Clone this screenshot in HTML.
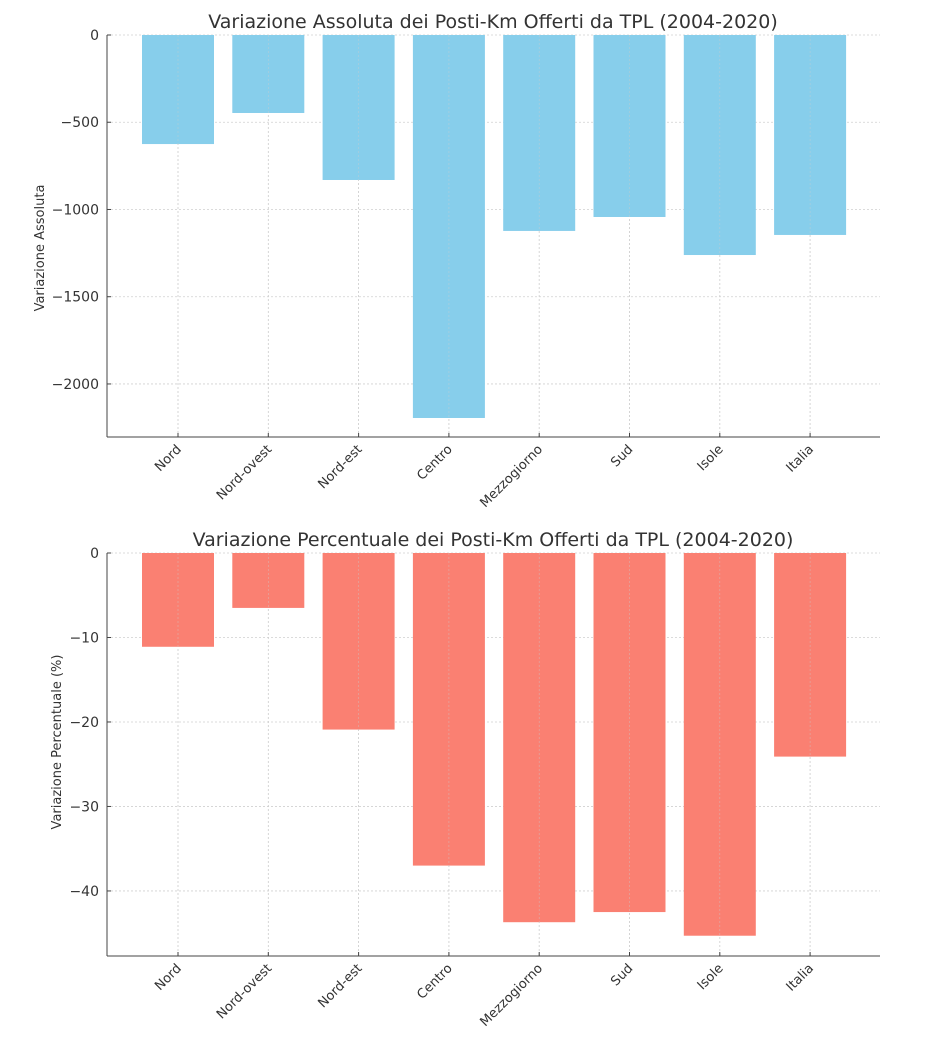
<!DOCTYPE html>
<html><head><meta charset="utf-8"><style>
body{margin:0;background:#fff;}
svg{display:block;font-family:"DejaVu Sans","Liberation Sans",sans-serif;}
</style></head><body>
<svg id="c" width="944" height="1048" viewBox="0 0 944 1048"></svg>
<script>
const categories=["Nord","Nord-ovest","Nord-est","Centro","Mezzogiorno","Sud","Isole","Italia"];
const absValues=[-625,-447,-831,-2195,-1123,-1043,-1261,-1146];
const pctValues=[-11.1,-6.5,-20.9,-37.0,-43.7,-42.5,-45.3,-24.1];
const absTicks=[0,-500,-1000,-1500,-2000];
const pctTicks=[0,-10,-20,-30,-40];
const NS="http://www.w3.org/2000/svg";
const svg=document.getElementById('c');
function mk(tag,attrs,parent){const e=document.createElementNS(NS,tag);for(const k in attrs)e.setAttribute(k,attrs[k]);(parent||svg).appendChild(e);return e;}
function chart(o){
  const g=mk('g',{});
  
  
  const x0=107,x1=880;
  const y=v=>o.top+v*(o.bottom-o.top)/(o.min);
  const xc=i=>178+i*90.3;
  o.ticks.forEach(t=>{const l=mk('line',{x1:x0,x2:x1,y1:y(t),y2:y(t),stroke:'#d0d0d0','stroke-dasharray':'2,2','stroke-width':0.8},g);
    });
  categories.forEach((c,i)=>{const l=mk('line',{x1:xc(i),x2:xc(i),y1:o.top,y2:o.bottom,stroke:'#d0d0d0','stroke-dasharray':'2,2','stroke-width':0.8},g);
    });
  o.values.forEach((v,i)=>{const r=mk('rect',{x:xc(i)-36,y:y(0),width:72,height:y(v)-y(0),fill:o.color},g);
    });
  categories.forEach((c,i)=>{mk('line',{x1:xc(i),x2:xc(i),y1:o.top,y2:o.bottom,stroke:'#ccc','stroke-dasharray':'2,2','stroke-width':0.6,opacity:0.6},g);});
  const sl=mk('line',{x1:x0,x2:x0,y1:o.top,y2:o.bottom,stroke:'#444','stroke-width':1},g);
  
  const sb=mk('line',{x1:x0,x2:x1,y1:o.bottom,y2:o.bottom,stroke:'#444','stroke-width':1},g);
  
  o.ticks.forEach(t=>{mk('line',{x1:x0,x2:x0+4,y1:y(t),y2:y(t),stroke:'#444'},g);
    const tx=mk('text',{x:x0-8,y:y(t)+5,'text-anchor':'end','font-size':14,fill:'#333'},g);
    tx.textContent=(t<0?'\u2212':'')+Math.abs(t);
    });
  categories.forEach((c,i)=>{mk('line',{x1:xc(i),x2:xc(i),y1:o.bottom,y2:o.bottom-4,stroke:'#444'},g);
    const tx=mk('text',{x:xc(i)+4,y:o.bottom+13,'text-anchor':'end','font-size':13,fill:'#333',transform:`rotate(-45 ${xc(i)+4} ${o.bottom+13})`},g);
    tx.textContent=c;});
  const tt=mk('text',{x:493,y:o.top-7,'text-anchor':'middle','font-size':19,fill:'#333'},g);
  tt.textContent=o.title;
  const cy=o.ycenter,lx=o.ylx;
  const yt=mk('text',{x:lx,y:cy,'text-anchor':'middle','font-size':13,fill:'#333',transform:`rotate(-90 ${lx} ${cy})`},g);
  yt.textContent=o.ylabel;
}
chart({name:'absolute-chart',top:35,bottom:437,min:-2304,values:absValues,ticks:absTicks,color:'#87ceeb',ycenter:248,ylx:44,
  title:'Variazione Assoluta dei Posti-Km Offerti da TPL (2004-2020)',ylabel:'Variazione Assoluta'});
chart({name:'percent-chart',top:553,bottom:956,min:-47.7,values:pctValues,ticks:pctTicks,color:'#fa8072',ycenter:742,ylx:61,
  title:'Variazione Percentuale dei Posti-Km Offerti da TPL (2004-2020)',ylabel:'Variazione Percentuale (%)'});
</script>
</body></html>
